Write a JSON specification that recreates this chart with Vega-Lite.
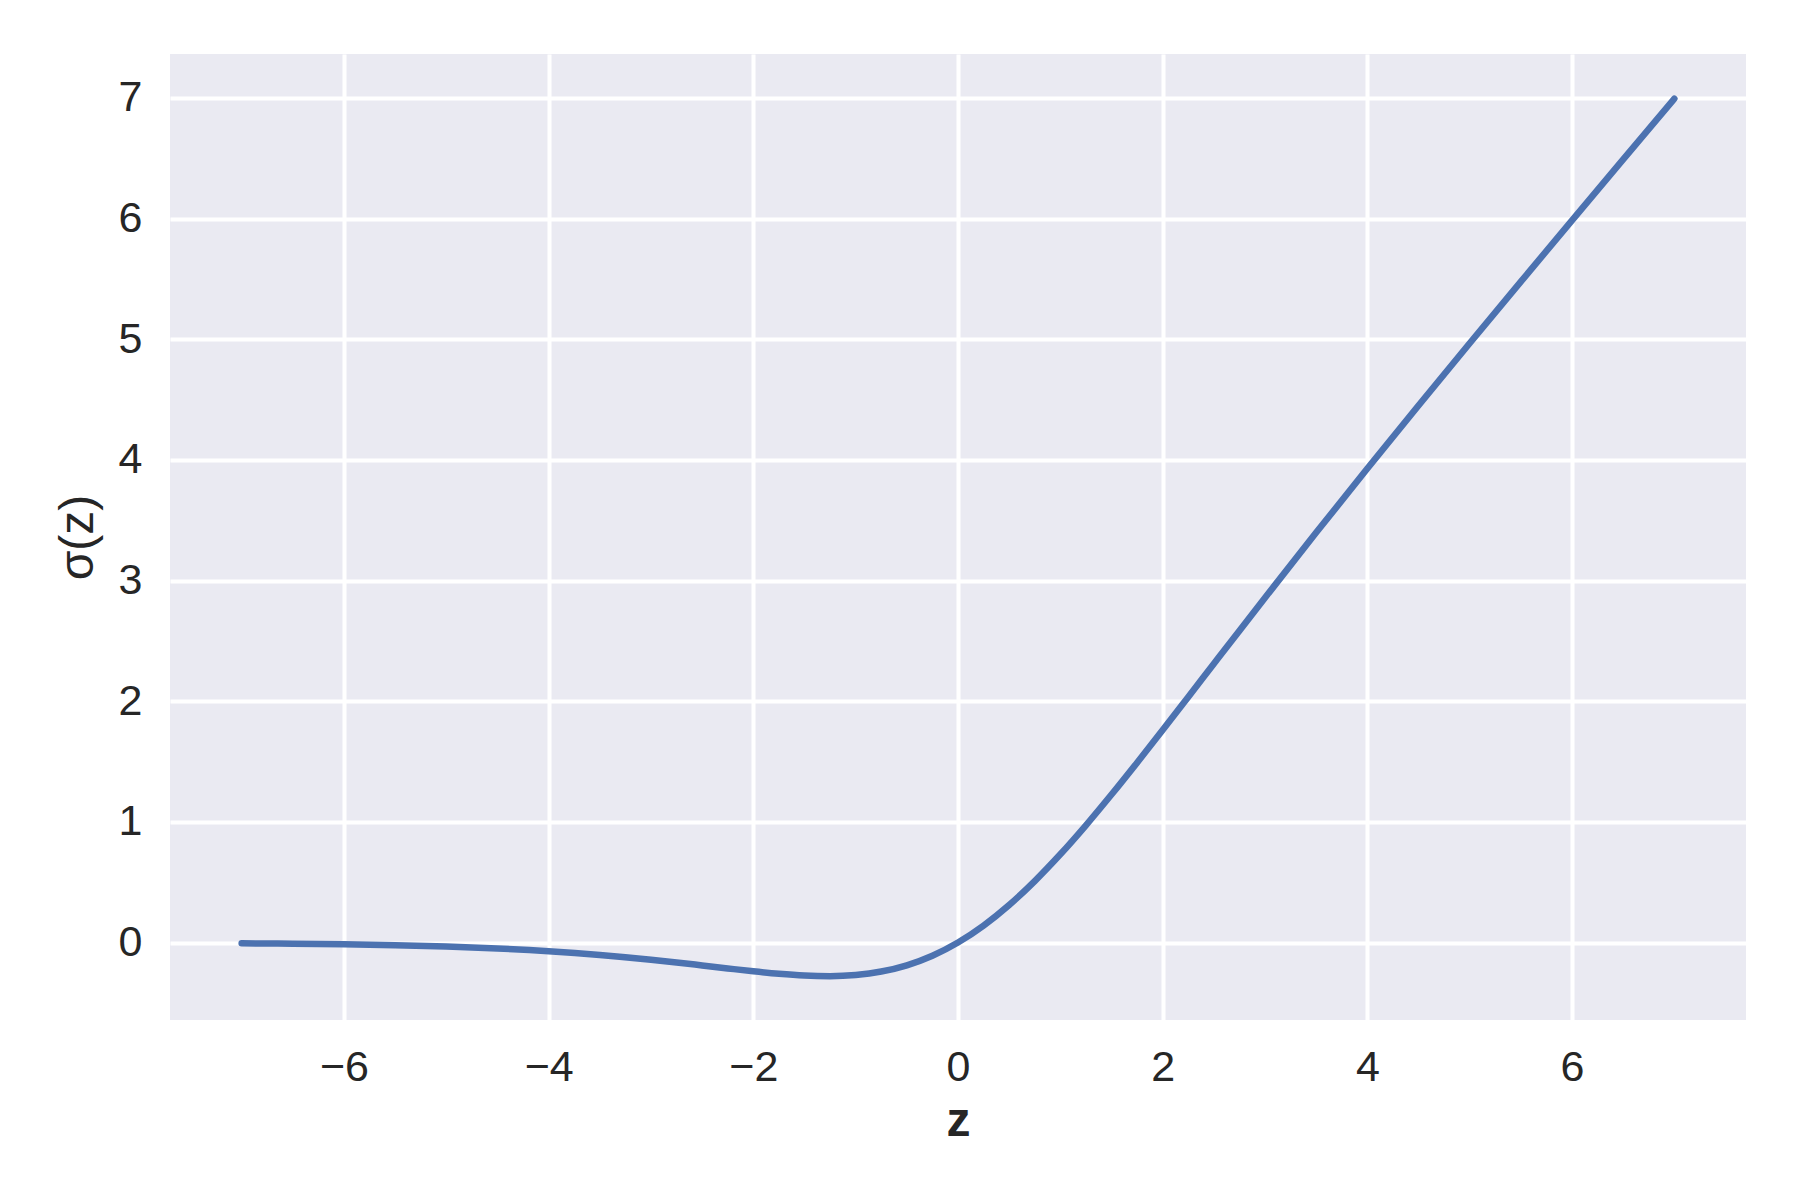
{
  "$schema": "https://vega.github.io/schema/vega-lite/v6.json",
  "width": 1576,
  "height": 966,
  "autosize": {"type": "none"},
  "padding": {"left": 170, "top": 54, "right": 54, "bottom": 180},
  "background": "white",
  "config": {
    "view": {"fill": "#EAEAF2", "stroke": null},
    "font": "Liberation Sans",
    "axis": {
      "domain": false,
      "ticks": false,
      "tickSize": 0,
      "grid": true,
      "gridColor": "white",
      "gridWidth": 4,
      "labelFont": "Liberation Sans",
      "labelFontSize": 43,
      "labelColor": "#262626",
      "titleFont": "Liberation Sans",
      "titleFontSize": 48,
      "titleColor": "#262626"
    }
  },
  "data": {
    "values": [
      {"z": -7, "s": -0.0064},
      {"z": -6.5, "s": -0.0098},
      {"z": -6, "s": -0.0148},
      {"z": -5.5, "s": -0.0224},
      {"z": -5, "s": -0.0335},
      {"z": -4.5, "s": -0.0494},
      {"z": -4, "s": -0.0719},
      {"z": -3.5, "s": -0.1026},
      {"z": -3, "s": -0.1423},
      {"z": -2.75, "s": -0.1652},
      {"z": -2.5, "s": -0.1897},
      {"z": -2.25, "s": -0.2145},
      {"z": -2, "s": -0.2384},
      {"z": -1.75, "s": -0.2591},
      {"z": -1.5, "s": -0.2736},
      {"z": -1.25, "s": -0.2784},
      {"z": -1, "s": -0.2689},
      {"z": -0.75, "s": -0.2406},
      {"z": -0.5, "s": -0.1888},
      {"z": -0.25, "s": -0.1095},
      {"z": 0, "s": 0},
      {"z": 0.25, "s": 0.1405},
      {"z": 0.5, "s": 0.3112},
      {"z": 0.75, "s": 0.5094},
      {"z": 1, "s": 0.7311},
      {"z": 1.25, "s": 0.9716},
      {"z": 1.5, "s": 1.2264},
      {"z": 1.75, "s": 1.4909},
      {"z": 2, "s": 1.7616},
      {"z": 2.25, "s": 2.0355},
      {"z": 2.5, "s": 2.3104},
      {"z": 2.75, "s": 2.5848},
      {"z": 3, "s": 2.8577},
      {"z": 3.5, "s": 3.3974},
      {"z": 4, "s": 3.9281},
      {"z": 4.5, "s": 4.4506},
      {"z": 5, "s": 4.9665},
      {"z": 5.5, "s": 5.4776},
      {"z": 6, "s": 5.9852},
      {"z": 6.5, "s": 6.4902},
      {"z": 7, "s": 6.9936}
    ]
  },
  "mark": {"type": "line", "color": "#4C72B0", "strokeWidth": 6.5, "strokeCap": "round", "strokeJoin": "round", "interpolate": "monotone"},
  "encoding": {
    "x": {
      "field": "z", "type": "quantitative",
      "scale": {"domain": [-7.7, 7.7], "nice": false, "zero": false},
      "axis": {"values": [-6, -4, -2, 0, 2, 4, 6], "labelPadding": 26, "title": "z", "titleFontWeight": "bold", "titlePadding": 8, "labelFlush": false}
    },
    "y": {
      "field": "s", "type": "quantitative",
      "scale": {"domain": [-0.642, 7.364], "nice": false, "zero": false},
      "axis": {"values": [0, 1, 2, 3, 4, 5, 6, 7], "labelPadding": 28, "title": "σ(z)", "titleFontWeight": "normal", "titlePadding": 16, "labelFlush": false}
    }
  }
}
